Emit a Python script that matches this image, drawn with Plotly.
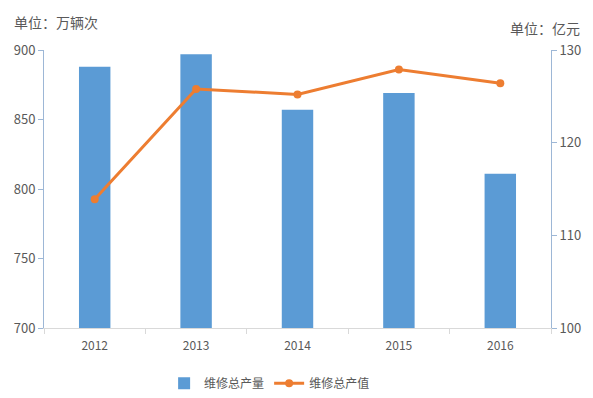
import plotly.graph_objects as go

years = ["2012", "2013", "2014", "2015", "2016"]
volume = [888, 897, 857, 869, 811]          # 维修总产量 (万辆次)
value = [113.9, 125.8, 125.2, 127.9, 126.4]  # 维修总产值 (亿元)
left_ticks = [700, 750, 800, 850, 900]
right_ticks = [100, 110, 120, 130]

font_cn = "Noto Sans CJK SC, Noto Sans, sans-serif"
grey = "#595959"

fig = go.Figure()
fig.add_trace(go.Bar(
    x=years, y=volume, name="维修总产量",
    marker=dict(color="#5b9bd5", line=dict(width=0)),
    width=0.31,
))
fig.add_trace(go.Scatter(
    x=years, y=value, name="维修总产值", yaxis="y2",
    mode="lines+markers",
    line=dict(color="#ed7d31", width=3),
    marker=dict(color="#ed7d31", size=8),
))

fig.update_layout(
    width=585, height=390,
    margin=dict(l=36, r=42, t=42, b=70, autoexpand=False),
    paper_bgcolor="white", plot_bgcolor="white",
    font=dict(family=font_cn, size=13, color=grey),
    showlegend=True,
    legend=dict(orientation="h", x=0.445, xanchor="center", y=-0.147, yanchor="top",
                font=dict(size=12, color=grey), traceorder="normal"),
    xaxis=dict(
        type="category", range=[-0.5, 4.5], automargin=False,
        showline=True, linecolor="#d9d9d9", linewidth=1,
        ticks="outside", tickson="boundaries", ticklen=5, tickcolor="#d9d9d9",
        ticklabelstandoff=7,
        showgrid=False, tickfont=dict(size=12, color=grey),
    ),
    yaxis=dict(
        range=[700, 900], tickvals=left_ticks, automargin=False,
        showline=True, linecolor="#9db7d6", linewidth=1,
        ticks="outside", ticklen=5, tickcolor="#9db7d6",
        showgrid=False, zeroline=False, tickfont=dict(size=13, color=grey),
    ),
    yaxis2=dict(
        range=[100, 130], tickvals=right_ticks, overlaying="y", side="right",
        automargin=False,
        showline=True, linecolor="#9db7d6", linewidth=1,
        ticks="outside", ticklen=5, tickcolor="#9db7d6",
        showgrid=False, zeroline=False, tickfont=dict(size=13, color=grey),
    ),
    annotations=[
        dict(text="单位：万辆次", xref="paper", yref="paper", x=-0.063, y=1.0,
             xanchor="left", yanchor="bottom", yshift=16, showarrow=False,
             font=dict(size=14, color=grey, family=font_cn)),
        dict(text="单位：亿元", xref="paper", yref="paper", x=1.061, y=1.0,
             xanchor="right", yanchor="bottom", yshift=10, showarrow=False,
             font=dict(size=14, color=grey, family=font_cn)),
    ],
)

fig.write_html("out.html")
